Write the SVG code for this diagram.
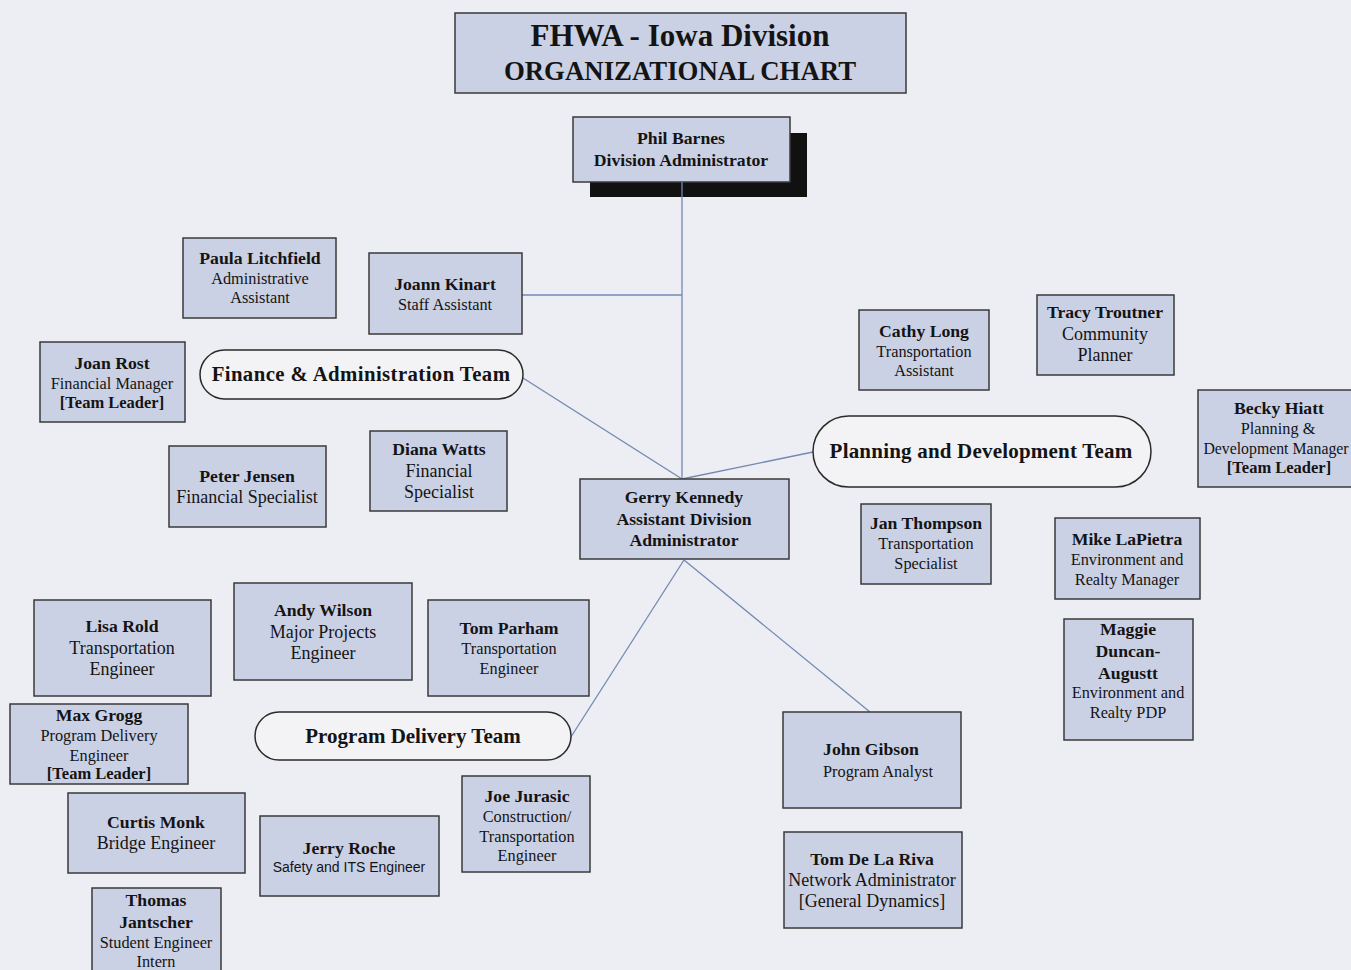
<svg xmlns="http://www.w3.org/2000/svg" width="1351" height="970" viewBox="0 0 1351 970">
<style>
.bg{fill:#eceef3}
.box{fill:#cbd1e5;stroke:#3a3a3a;stroke-width:1.5}
.pill{fill:#f3f3f6;stroke:#2a2a2a;stroke-width:1.5}
.shadow{fill:#111}
.conn{stroke:#7388b3;stroke-width:1.3;fill:none}
text{font-family:"Liberation Serif","Times New Roman",serif;fill:#141414;text-anchor:middle}
.n{font-size:17.7px;font-weight:bold}
.r{font-size:16.3px}
.b{font-size:18px}
.l{font-size:16.5px;font-weight:bold}
.s{font-family:"Liberation Sans",Arial,sans-serif;font-size:14px}
.t{font-size:21px;font-weight:bold}
</style>
<rect class="bg" x="0" y="0" width="1351" height="970"/>

<g id="connectors">
<line class="conn" x1="682" y1="182" x2="682" y2="479"/>
<line class="conn" x1="522" y1="295" x2="682" y2="295"/>
<line class="conn" x1="523" y1="378" x2="682" y2="479"/>
<line class="conn" x1="682" y1="479" x2="813" y2="452"/>
<line class="conn" x1="684" y1="560" x2="569" y2="740"/>
<line class="conn" x1="684" y1="560" x2="870" y2="712"/>
</g>

<g id="title">
<rect class="box" x="455" y="13" width="451" height="80"/>
<text x="680" y="46" style="font-size:31px;font-weight:bold">FHWA - Iowa Division</text>
<text x="680" y="80" style="font-size:26.8px;font-weight:bold">ORGANIZATIONAL CHART</text>
</g>

<g id="phil-barnes">
<rect class="shadow" x="590" y="133" width="217" height="64"/>
<rect class="box" x="573" y="117" width="217" height="65"/>
<line class="conn" x1="682" y1="182" x2="682" y2="197"/>
<text class="n" x="681" y="144">Phil Barnes</text>
<text class="n" x="681" y="166">Division Administrator</text>
</g>

<g id="paula-litchfield">
<rect class="box" x="183" y="238" width="153" height="80"/>
<text class="n" x="260" y="264">Paula Litchfield</text>
<text class="r" x="260" y="284">Administrative</text>
<text class="r" x="260" y="303">Assistant</text>
</g>

<g id="joann-kinart">
<rect class="box" x="369" y="253" width="153" height="81"/>
<text class="n" x="445" y="290">Joann Kinart</text>
<text class="r" x="445" y="310">Staff Assistant</text>
</g>

<g id="joan-rost">
<rect class="box" x="40" y="342" width="145" height="80"/>
<text class="n" x="112" y="369">Joan Rost</text>
<text class="r" x="112" y="389">Financial Manager</text>
<text class="l" x="112" y="408">[Team Leader]</text>
</g>

<g id="finance-team">
<rect class="pill" x="200" y="350" width="323" height="49" rx="24.5"/>
<text class="t" x="361" y="381" style="font-size:20.8px;letter-spacing:0.4px">Finance &amp; Administration Team</text>
</g>

<g id="peter-jensen">
<rect class="box" x="169" y="446" width="157" height="81"/>
<text class="n" x="247" y="482">Peter Jensen</text>
<text class="b" x="247" y="503">Financial Specialist</text>
</g>

<g id="diana-watts">
<rect class="box" x="370" y="431" width="137" height="80"/>
<text class="n" x="439" y="455">Diana Watts</text>
<text class="b" x="439" y="477">Financial</text>
<text class="b" x="439" y="498">Specialist</text>
</g>

<g id="gerry-kennedy">
<rect class="box" x="580" y="479" width="209" height="80"/>
<text class="n" x="684" y="503">Gerry Kennedy</text>
<text class="n" x="684" y="525">Assistant Division</text>
<text class="n" x="684" y="546">Administrator</text>
</g>

<g id="cathy-long">
<rect class="box" x="859" y="310" width="130" height="80"/>
<text class="n" x="924" y="337">Cathy Long</text>
<text class="r" x="924" y="357">Transportation</text>
<text class="r" x="924" y="376">Assistant</text>
</g>

<g id="tracy-troutner">
<rect class="box" x="1037" y="295" width="137" height="80"/>
<text class="n" x="1105" y="318">Tracy Troutner</text>
<text class="b" x="1105" y="340">Community</text>
<text class="b" x="1105" y="361">Planner</text>
</g>

<g id="planning-team">
<rect class="pill" x="813" y="416" width="338" height="71" rx="35.5"/>
<text class="t" x="981" y="458" style="letter-spacing:0.2px">Planning and Development Team</text>
</g>

<g id="becky-hiatt">
<rect class="box" x="1198" y="390" width="160" height="97"/>
<text class="n" x="1279" y="414">Becky Hiatt</text>
<text class="r" x="1278" y="434">Planning &amp;</text>
<text class="r" x="1276" y="454" style="font-size:15.8px">Development Manager</text>
<text class="l" x="1279" y="473">[Team Leader]</text>
</g>

<g id="jan-thompson">
<rect class="box" x="861" y="504" width="130" height="80"/>
<text class="n" x="926" y="529">Jan Thompson</text>
<text class="r" x="926" y="549">Transportation</text>
<text class="r" x="926" y="569">Specialist</text>
</g>

<g id="mike-lapietra">
<rect class="box" x="1055" y="518" width="145" height="81"/>
<text class="n" x="1127" y="545">Mike LaPietra</text>
<text class="r" x="1127" y="565">Environment and</text>
<text class="r" x="1127" y="585">Realty Manager</text>
</g>

<g id="maggie-duncan-augustt">
<rect class="box" x="1064" y="619" width="129" height="121"/>
<text class="n" x="1128" y="635">Maggie</text>
<text class="n" x="1128" y="657">Duncan-</text>
<text class="n" x="1128" y="679">Augustt</text>
<text class="r" x="1128" y="698">Environment and</text>
<text class="r" x="1128" y="718">Realty PDP</text>
</g>

<g id="lisa-rold">
<rect class="box" x="34" y="600" width="177" height="96"/>
<text class="n" x="122" y="632">Lisa Rold</text>
<text class="b" x="122" y="654">Transportation</text>
<text class="b" x="122" y="675">Engineer</text>
</g>

<g id="andy-wilson">
<rect class="box" x="234" y="583" width="178" height="97"/>
<text class="n" x="323" y="616">Andy Wilson</text>
<text class="b" x="323" y="638">Major Projects</text>
<text class="b" x="323" y="659">Engineer</text>
</g>

<g id="tom-parham">
<rect class="box" x="428" y="600" width="161" height="96"/>
<text class="n" x="509" y="634">Tom Parham</text>
<text class="r" x="509" y="654">Transportation</text>
<text class="r" x="509" y="674">Engineer</text>
</g>

<g id="max-grogg">
<rect class="box" x="10" y="704" width="178" height="80"/>
<text class="n" x="99" y="721">Max Grogg</text>
<text class="r" x="99" y="741">Program Delivery</text>
<text class="r" x="99" y="761">Engineer</text>
<text class="l" x="99" y="779">[Team Leader]</text>
</g>

<g id="program-team">
<rect class="pill" x="255" y="712" width="316" height="48" rx="24"/>
<text class="t" x="413" y="743">Program Delivery Team</text>
</g>

<g id="curtis-monk">
<rect class="box" x="68" y="793" width="177" height="80"/>
<text class="n" x="156" y="828">Curtis Monk</text>
<text class="b" x="156" y="849">Bridge Engineer</text>
</g>

<g id="jerry-roche">
<rect class="box" x="260" y="816" width="179" height="80"/>
<text class="n" x="349" y="854">Jerry Roche</text>
<text class="s" x="349" y="872">Safety and ITS Engineer</text>
</g>

<g id="joe-jurasic">
<rect class="box" x="462" y="776" width="128" height="96"/>
<text class="n" x="527" y="802">Joe Jurasic</text>
<text class="r" x="527" y="822">Construction/</text>
<text class="r" x="527" y="842">Transportation</text>
<text class="r" x="527" y="861">Engineer</text>
</g>

<g id="thomas-jantscher">
<rect class="box" x="92" y="888" width="129" height="90"/>
<text class="n" x="156" y="906">Thomas</text>
<text class="n" x="156" y="928">Jantscher</text>
<text class="r" x="156" y="948">Student Engineer</text>
<text class="r" x="156" y="967">Intern</text>
</g>

<g id="john-gibson">
<rect class="box" x="783" y="712" width="178" height="96"/>
<text class="n" x="871" y="755">John Gibson</text>
<text class="r" x="878" y="777">Program Analyst</text>
</g>

<g id="tom-de-la-riva">
<rect class="box" x="784" y="832" width="178" height="96"/>
<text class="n" x="872" y="865">Tom De La Riva</text>
<text class="b" x="872" y="886">Network Administrator</text>
<text class="b" x="872" y="907">[General Dynamics]</text>
</g>
</svg>
